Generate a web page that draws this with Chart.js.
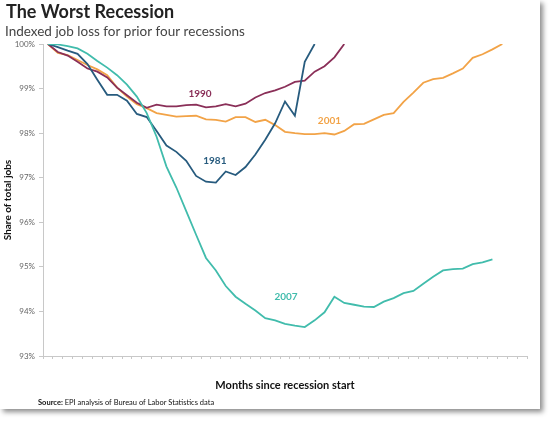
<!DOCTYPE html>
<html>
<head>
<meta charset="utf-8">
<script src="https://cdn.jsdelivr.net/npm/chart.js@4.4.1/dist/chart.umd.min.js"></script>
<style>
  body { margin: 0; background: #fff; }
  #card { position: absolute; left: 0; top: 0; width: 540px; height: 409px; background: #fff;
          box-shadow: 3px 3px 5px rgba(0,0,0,0.45); }
</style>
</head>
<body>
<div id="card"><canvas id="chart" width="540" height="409"></canvas></div>
<script>
// share of total jobs (%) by month since recession start, month 0 first
const jobs1981 = [100.0, 99.93, 99.85, 99.78, 99.55, 99.2, 98.86, 98.86, 98.73, 98.43,
    98.36, 98.05, 97.72, 97.58, 97.38, 97.04, 96.91, 96.89, 97.14, 97.06,
    97.24, 97.52, 97.85, 98.22, 98.71, 98.39, 99.6, 100.0];
const jobs1990 = [100.0, 99.82, 99.74, 99.6, 99.45, 99.38, 99.25, 99.02, 98.85, 98.68,
    98.57, 98.64, 98.6, 98.6, 98.63, 98.64, 98.58, 98.6, 98.65, 98.6,
    98.66, 98.8, 98.9, 98.96, 99.04, 99.15, 99.18, 99.38, 99.5, 99.7, 100.0];
const jobs2001 = [100.0, 99.8, 99.75, 99.64, 99.53, 99.43, 99.3, 99.02, 98.82, 98.65,
    98.56, 98.45, 98.41, 98.37, 98.38, 98.39, 98.31, 98.3, 98.26, 98.36,
    98.36, 98.25, 98.3, 98.18, 98.03, 98.0, 97.98, 97.98, 98.0, 97.97,
    98.05, 98.2, 98.21, 98.31, 98.41, 98.45, 98.7, 98.91, 99.13, 99.21,
    99.24, 99.34, 99.45, 99.69, 99.77, 99.88, 100.0];
const jobs2007 = [100.0, 99.99, 99.95, 99.9, 99.78, 99.62, 99.47, 99.3, 99.09, 98.82,
    98.45, 97.92, 97.25, 96.78, 96.25, 95.72, 95.2, 94.92, 94.57, 94.33,
    94.17, 94.02, 93.85, 93.8, 93.72, 93.68, 93.65, 93.8, 93.98, 94.33,
    94.19, 94.15, 94.11, 94.1, 94.22, 94.3, 94.41, 94.46, 94.62, 94.78,
    94.92, 94.95, 94.96, 95.06, 95.1, 95.17];

const seriesNames = ['2007', '1981', '1990', '2001'];
const seriesValues = [jobs2007, jobs1981, jobs1990, jobs2001];
const seriesColors = ['#41bcac', '#275b7e', '#8a2f58', '#f2a347'];
// where each series name is written (month, percent)
const labelAt = [[24.1, 94.33], [16.9, 97.38], [15.4, 98.88], [28.5, 98.28]];

const FONT = 'Lato, "Open Sans", sans-serif';

const textPlugin = {
    id: 'texts',
    afterDraw(chart) {
        const ctx = chart.ctx;
        const x = chart.scales.x, y = chart.scales.y;
        ctx.save();
        ctx.textBaseline = 'alphabetic';
        ctx.textAlign = 'left';
        ctx.fillStyle = '#222';
        ctx.font = 'bold 18px ' + FONT;
        ctx.fillText('The Worst Recession', 6, 18);
        ctx.fillStyle = '#444';
        ctx.font = '13.5px ' + FONT;
        ctx.fillText('Indexed job loss for prior four recessions', 5, 36);

        ctx.fillStyle = '#111';
        ctx.font = 'bold 7.5px ' + FONT;
        ctx.fillText('Source:', 38, 405);
        let w = ctx.measureText('Source: ').width;
        ctx.font = '7.5px ' + FONT;
        ctx.fillText('EPI analysis of Bureau of Labor Statistics data', 38 + w, 405);

        ctx.textAlign = 'center';
        ctx.textBaseline = 'middle';
        ctx.font = 'bold 10px ' + FONT;
        seriesNames.forEach((name, i) => {
            ctx.fillStyle = seriesColors[i];
            ctx.fillText(name, x.getPixelForValue(labelAt[i][0]), y.getPixelForValue(labelAt[i][1]));
        });
        ctx.restore();
    }
};

window.onload = () => {
    const ctx = document.getElementById('chart').getContext('2d');
    new Chart(ctx, {
        type: 'line',
        data: {
            datasets: seriesNames.map((name, i) => ({
                label: name,
                data: seriesValues[i].map((v, m) => ({x: m, y: v})),
                borderColor: seriesColors[i],
                borderWidth: 1.8,
                pointRadius: 0,
                tension: 0,
                fill: false
            }))
        },
        options: {
            responsive: false,
            animation: false,
            layout: {padding: {top: 44, left: 0, right: 13, bottom: 17}},
            plugins: {legend: {display: false}, tooltip: {enabled: false}},
            scales: {
                x: {
                    type: 'linear',
                    min: -0.5,
                    max: 48.5,
                    afterFit: s => { s.height = 36; },
                    border: {color: '#c8c8c8', width: 1},
                    grid: {drawOnChartArea: false, tickLength: 3, color: '#c8c8c8'},
                    ticks: {
                        stepSize: 1,
                        autoSkip: false,
                        includeBounds: false,
                        maxRotation: 0,
                        padding: 3,
                        color: '#666',
                        font: {family: FONT, size: 9},
                        callback: v => (v % 2 === 0 ? v : '')
                    },
                    title: {
                        display: true,
                        text: 'Months since recession start',
                        color: '#111',
                        font: {family: FONT, size: 11, weight: 'bold'},
                        padding: {top: 6, bottom: 0}
                    }
                },
                y: {
                    min: 93,
                    max: 100,
                    afterFit: s => { s.width = 43; },
                    border: {color: '#c8c8c8', width: 1},
                    grid: {drawOnChartArea: false, tickLength: 4, color: '#c8c8c8'},
                    ticks: {
                        stepSize: 1,
                        padding: 4,
                        color: '#666',
                        font: {family: FONT, size: 8},
                        callback: v => v + '%'
                    },
                    title: {
                        display: true,
                        text: 'Share of total jobs',
                        color: '#111',
                        font: {family: FONT, size: 10, weight: 'bold'},
                        padding: {top: 2, bottom: 0}
                    }
                }
            }
        },
        plugins: [textPlugin]
    });
};
</script>
</body>
</html>
